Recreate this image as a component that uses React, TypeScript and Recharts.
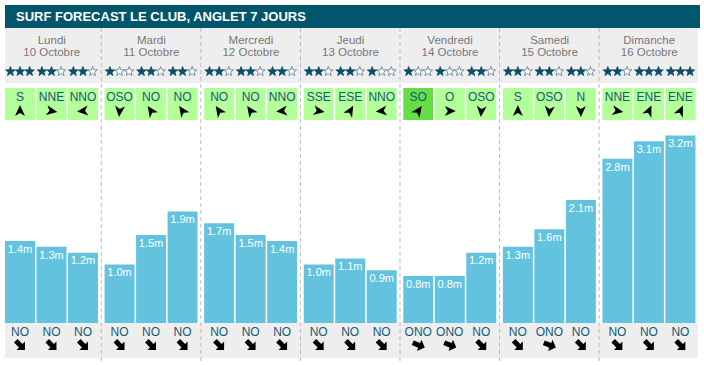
import React from 'react';
import { BarChart, Bar, XAxis, YAxis, LabelList } from 'recharts';

const days = ['Lundi', 'Mardi', 'Mercredi', 'Jeudi', 'Vendredi', 'Samedi', 'Dimanche'];
const dates = ['10 Octobre', '11 Octobre', '12 Octobre', '13 Octobre', '14 Octobre', '15 Octobre', '16 Octobre'];

// wave height (m) for the three slots of each day
const waveAm = [1.4, 1.0, 1.7, 1.0, 0.8, 1.3, 2.8];
const waveMid = [1.3, 1.5, 1.5, 1.1, 0.8, 1.6, 3.1];
const wavePm = [1.2, 1.9, 1.4, 0.9, 1.2, 2.1, 3.2];

// rating out of 3
const starsAm = [3, 1, 2, 2, 1, 2, 2];
const starsMid = [2, 2, 2, 2, 1, 2, 3];
const starsPm = [2, 2, 2, 1, 2, 2, 3];

const windAm = ['S', 'OSO', 'NO', 'SSE', 'SO', 'S', 'NNE'];
const windMid = ['NNE', 'NO', 'NO', 'ESE', 'O', 'OSO', 'ENE'];
const windPm = ['NNO', 'NO', 'NNO', 'NNO', 'OSO', 'N', 'ENE'];
const windStrongAm = [0, 0, 0, 0, 1, 0, 0];
const windStrongMid = [0, 0, 0, 0, 0, 0, 0];
const windStrongPm = [0, 0, 0, 0, 0, 0, 0];

const swellAm = ['NO', 'NO', 'NO', 'NO', 'ONO', 'NO', 'NO'];
const swellMid = ['NO', 'NO', 'NO', 'NO', 'ONO', 'ONO', 'NO'];
const swellPm = ['NO', 'NO', 'NO', 'NO', 'NO', 'NO', 'NO'];

// arrow rotation (deg, clockwise from up) as drawn on the site
const windAngle: Record<string, number> = {
  S: 0, N: 180, O: 90, OSO: 185, NNE: 100, NNO: 265, NO: 325, SO: 35, SSE: 100, ESE: 30, ENE: 25,
};
const swellAngle: Record<string, number> = { NO: 135, ONO: 112 };

const data = days.map((day, i) => ({
  day,
  date: dates[i],
  am: waveAm[i],
  mid: waveMid[i],
  pm: wavePm[i],
}));

const slots = [
  { key: 'am', stars: starsAm, wind: windAm, strong: windStrongAm, swell: swellAm },
  { key: 'mid', stars: starsMid, wind: windMid, strong: windStrongMid, swell: swellMid },
  { key: 'pm', stars: starsPm, wind: windPm, strong: windStrongPm, swell: swellPm },
];

const FONT = '"Liberation Sans", Arial, sans-serif';
const TEAL = '#02566b';
const BAR = '#63c3df';
const TEXT = '#145a78';

// 5-point star outline centred on 0,0
const starPoints = Array.from({ length: 10 }, (_, k) => {
  const r = k % 2 === 0 ? 5 : 2.1;
  const a = (Math.PI / 5) * k - Math.PI / 2;
  return `${(r * Math.cos(a)).toFixed(2)},${(r * Math.sin(a) + 0.5).toFixed(2)}`;
}).join(' ');

function DayTick(props: any) {
  const { x, y, payload } = props;
  const i = days.indexOf(payload.value);
  return (
    <g>
      <text x={x} y={y - 41.5} textAnchor="middle" fontSize={11.5} fill="#777" fontFamily={FONT}>{payload.value}</text>
      <text x={x} y={y - 29} textAnchor="middle" fontSize={11.5} fill="#777" fontFamily={FONT}>{dates[i]}</text>
    </g>
  );
}

// draws rating, wind box, swell and day separator around each bar slot
const makeSlotDecor = (slot: number) => (props: any) => {
  const { x, y, width, height, payload } = props;
  const i = payload ? days.indexOf(payload.day) : props.index;
  const s = slots[slot];
  const cx = x + width / 2;
  const bottom = y + height;
  const n = s.stars[i];
  return (
    <g>
      {slot === 0 && i > 0 && (
        <line x1={x - 3.3} x2={x - 3.3} y1={y - 57} y2={bottom + 39} stroke="#bbb" strokeDasharray="4 3" />
      )}
      {[0, 1, 2].map((k) => (
        <polygon
          key={k}
          points={starPoints}
          transform={`translate(${cx + (k - 1) * 9.6},${y - 14})`}
          fill={k < n ? '#0d4d66' : '#fff'}
          stroke={k < n ? '#0d4d66' : '#58788a'}
          strokeWidth={0.8}
          strokeLinejoin="round"
        />
      ))}
      <rect x={x} y={y + 3} width={width} height={32} fill={s.strong[i] ? '#66dd44' : '#b3ff99'} />
      <text x={cx} y={y + 16} textAnchor="middle" fontSize={12} fill={TEXT} fontFamily={FONT}>{s.wind[i]}</text>
      <path d="M0,-6 L5,5 L0,2 L-5,5 Z" fill="#000" transform={`translate(${cx},${y + 26}) rotate(${windAngle[s.wind[i]]})`} />
      <text x={cx} y={bottom + 13} textAnchor="middle" fontSize={12} fill={TEXT} fontFamily={FONT}>{s.swell[i]}</text>
      <path
        d="M0,-7 L6,-1 L2.5,-1 L2.5,6 L-2.5,6 L-2.5,-1 L-6,-1 Z"
        fill="#000"
        transform={`translate(${cx},${bottom + 22}) rotate(${swellAngle[s.swell[i]]})`}
      />
    </g>
  );
};

export default function App() {
  return (
    <div style={{ position: 'absolute', left: 0, top: 0, width: 704, height: 365, background: '#fff', fontFamily: FONT }}>
      <div style={{
        position: 'absolute', left: 5, top: 5, width: 684, height: 23, paddingLeft: 11, background: TEAL,
        color: '#fff', fontWeight: 'bold', fontSize: 13, lineHeight: '23px',
      }}>
        SURF FORECAST LE CLUB, ANGLET 7 JOURS
      </div>
      <div style={{ position: 'absolute', left: 5, top: 28, width: 693, height: 55, background: '#eee' }} />
      <div style={{ position: 'absolute', left: 5, top: 323, width: 693, height: 35, background: '#eee' }} />
      <div style={{ position: 'absolute', left: 0, top: 0 }}>
        <BarChart
          width={704}
          height={365}
          data={data}
          margin={{ top: 28, right: 5, bottom: 42, left: 2 }}
          barSize={30}
          barGap={1.5}
        >
          <XAxis
            dataKey="day"
            orientation="top"
            height={57}
            axisLine={false}
            tickLine={false}
            tickSize={0}
            tickMargin={0}
            interval={0}
            tick={<DayTick />}
          />
          <YAxis hide domain={[0, 4.06]} />
          {slots.map((s, k) => (
            <Bar key={s.key} dataKey={s.key} fill={BAR} isAnimationActive={false} background={makeSlotDecor(k)}>
              <LabelList
                dataKey={s.key}
                position="insideTop"
                offset={4}
                fill="#fff"
                fontSize={11}
                fontFamily={FONT}
                formatter={(v: any) => `${Number(v).toFixed(1)}m`}
              />
            </Bar>
          ))}
        </BarChart>
      </div>
    </div>
  );
}
